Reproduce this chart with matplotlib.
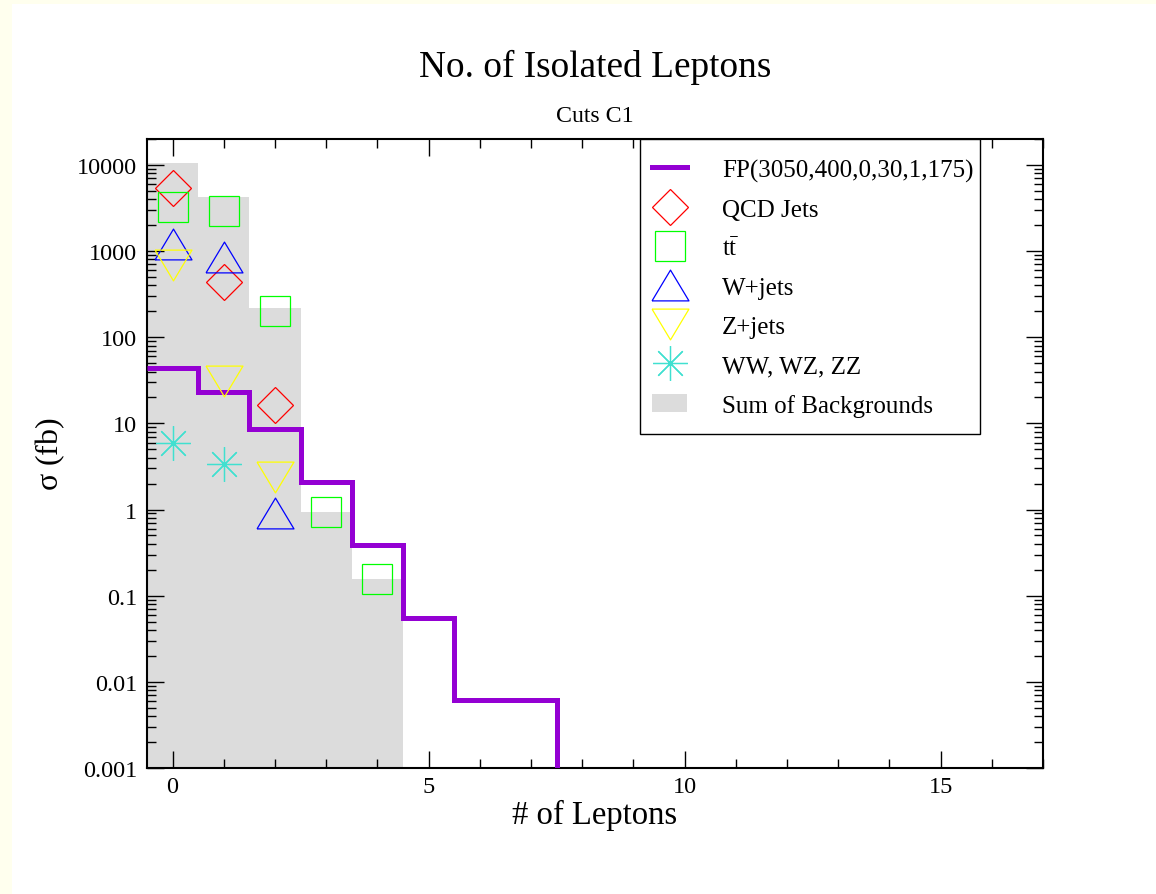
import numpy as np
import matplotlib
matplotlib.use("Agg")
import matplotlib.pyplot as plt
from matplotlib.patches import Patch, Rectangle
from matplotlib.lines import Line2D
from matplotlib.ticker import FixedLocator, LogLocator, FuncFormatter, NullFormatter, MultipleLocator

plt.rcParams['font.family'] = ['Liberation Serif', 'DejaVu Serif']
plt.rcParams['mathtext.fontset'] = 'stix'

# ---- data ----
n_leptons = [0, 1, 2, 3, 4, 5, 6, 7]
signal = [43.6, 23.4, 8.5, 2.07, 0.39, 0.055, 0.0061, 0.0061]

bg_bins = [0, 1, 2, 3, 4]
qcd = [5340, 442, 16.2, 0, 0]
ttbar = [3240, 2890, 201, 0.93, 0.157]
wjets = [1210, 845, 0.91, 0, 0]
zjets = [697, 31.3, 2.37, 0, 0]
diboson = [5.98, 3.38, 0, 0, 0]

title = "No. of Isolated Leptons"
subtitle = "Cuts C1"
signal_label = "FP(3050,400,0,30,1,175)"

W, H = 1156, 895
fig = plt.figure(figsize=(W / 100, H / 100), dpi=100, facecolor='white')
# viewer border strips
fig.patches.append(Rectangle((0, 0), 12 / W, 1, transform=fig.transFigure,
                             facecolor='#FFFFEE', edgecolor='none', zorder=-10))
fig.patches.append(Rectangle((0, 1 - 5 / H), 1, 5 / H, transform=fig.transFigure,
                             facecolor='#FFFFEE', edgecolor='none', zorder=-10))

AX_L, AX_R, AX_T, AX_B = 147, 1043, 140, 769
ax = fig.add_axes([AX_L / W, 1 - AX_B / H, (AX_R - AX_L) / W, (AX_B - AX_T) / H])
floor = 1e-6

def axx(px):
    return (px - AX_L) / (AX_R - AX_L)

def axy(py):
    return (AX_B - py) / (AX_B - AX_T)

# sum of backgrounds
bg_sum = np.array(qcd) + np.array(ttbar) + np.array(wjets) + np.array(zjets) + np.array(diboson)
edges_bg = np.array(bg_bins + [bg_bins[-1] + 1]) - 0.5
ax.stairs(bg_sum, edges_bg, baseline=floor, fill=True, color='#DCDCDC', zorder=1)

# signal step histogram (no left vertical edge, drop to floor at the end)
edges_sig = np.array(n_leptons + [n_leptons[-1] + 1], dtype=float) - 0.5
x_sig = np.repeat(edges_sig, 2)[1:]
y_sig = np.concatenate([np.repeat(signal, 2), [floor]])
ax.plot(x_sig, y_sig, color='#9400D3', linewidth=3.6, zorder=3,
        solid_joinstyle='miter', solid_capstyle='butt')

def pts(vals):
    x = [b for b, v in zip(bg_bins, vals) if v > 0]
    y = [v for v in vals if v > 0]
    return x, y

tri_up = [(-0.6, -0.5), (0.6, -0.5), (0.0, 0.5), (-0.6, -0.5)]
tri_dn = [(-0.6, 0.5), (0.6, 0.5), (0.0, -0.5), (-0.6, 0.5)]

mk = dict(linestyle='none', markerfacecolor='none', markeredgewidth=0.9, zorder=4)
styles = [
    (qcd, dict(marker='D', markersize=18.5, markeredgecolor='#FF0000'), "QCD Jets"),
    (ttbar, dict(marker='s', markersize=22.3, markeredgecolor='#00FF00'), r"$\mathregular{t\bar{t}}$"),
    (wjets, dict(marker=tri_up, markersize=26.6, markeredgecolor='#0000FF'), "W+jets"),
    (zjets, dict(marker=tri_dn, markersize=26.6, markeredgecolor='#FFFF00'), "Z+jets"),
    (diboson, dict(marker=(8, 2, 0), markersize=25, markeredgecolor='#40E0D0'), "WW, WZ, ZZ"),
]
handles = [Line2D([], [], color='#9400D3', linewidth=3.6, label=signal_label)]
for vals, st, lab in styles:
    x, y = pts(vals)
    ax.plot(x, y, **mk, **st)
    handles.append(Line2D([], [], **mk, **st, label=lab))
handles.append(Patch(facecolor='#DCDCDC', edgecolor='none', label="Sum of Backgrounds"))

ax.set_yscale('log')
ax.set_xlim(-0.5, 17)
ax.set_ylim(1e-3, 2e4)

ax.xaxis.set_major_locator(MultipleLocator(5))
ax.xaxis.set_minor_locator(MultipleLocator(1))
ax.yaxis.set_major_locator(FixedLocator([1e-3, 1e-2, 1e-1, 1, 10, 100, 1000, 1e4]))
ax.yaxis.set_minor_locator(LogLocator(base=10, subs=np.arange(2, 10), numticks=20))
ax.yaxis.set_major_formatter(FuncFormatter(lambda v, p: '%g' % v))
ax.yaxis.set_minor_formatter(NullFormatter())

ax.tick_params(which='both', direction='in', top=True, right=True, width=1.0, labelsize=17.5)
ax.tick_params(which='major', length=12.5, pad=7)
ax.tick_params(which='minor', length=6.5)
ax.tick_params(axis='x', which='major', pad=6)
for s in ax.spines.values():
    s.set_linewidth(1.5)

ax.set_xlabel("# of Leptons", fontsize=23.5)
ax.xaxis.set_label_coords(0.5, axy(815))
ax.xaxis.label.set_va('center')
ax.set_ylabel(r"$\mathregular{\sigma}$ (fb)", fontsize=23)
ax.yaxis.set_label_coords(axx(50), 0.5)
ax.yaxis.label.set_va('center')

fig.text(595 / W, 1 - 77 / H, title, ha='center', va='baseline', fontsize=26.8)
fig.text(595 / W, 1 - 121.5 / H, subtitle, ha='center', va='baseline', fontsize=17.2)

# legend box
box = Rectangle((axx(640), axy(435)), axx(980) - axx(640), axy(140) - axy(435),
                transform=ax.transAxes, facecolor='white', edgecolor='black',
                linewidth=1.0, zorder=9, clip_on=False)
ax.add_patch(box)
leg = ax.legend(handles=handles, loc='upper left',
                bbox_to_anchor=(axx(652), axy(159.5)), borderaxespad=0,
                fontsize=18, frameon=False,
                handlelength=1.4, handletextpad=1.4,
                labelspacing=0.66, borderpad=0, numpoints=1)
leg.set_zorder(10)

fig.savefig("out.png", dpi=100, facecolor=fig.get_facecolor())
